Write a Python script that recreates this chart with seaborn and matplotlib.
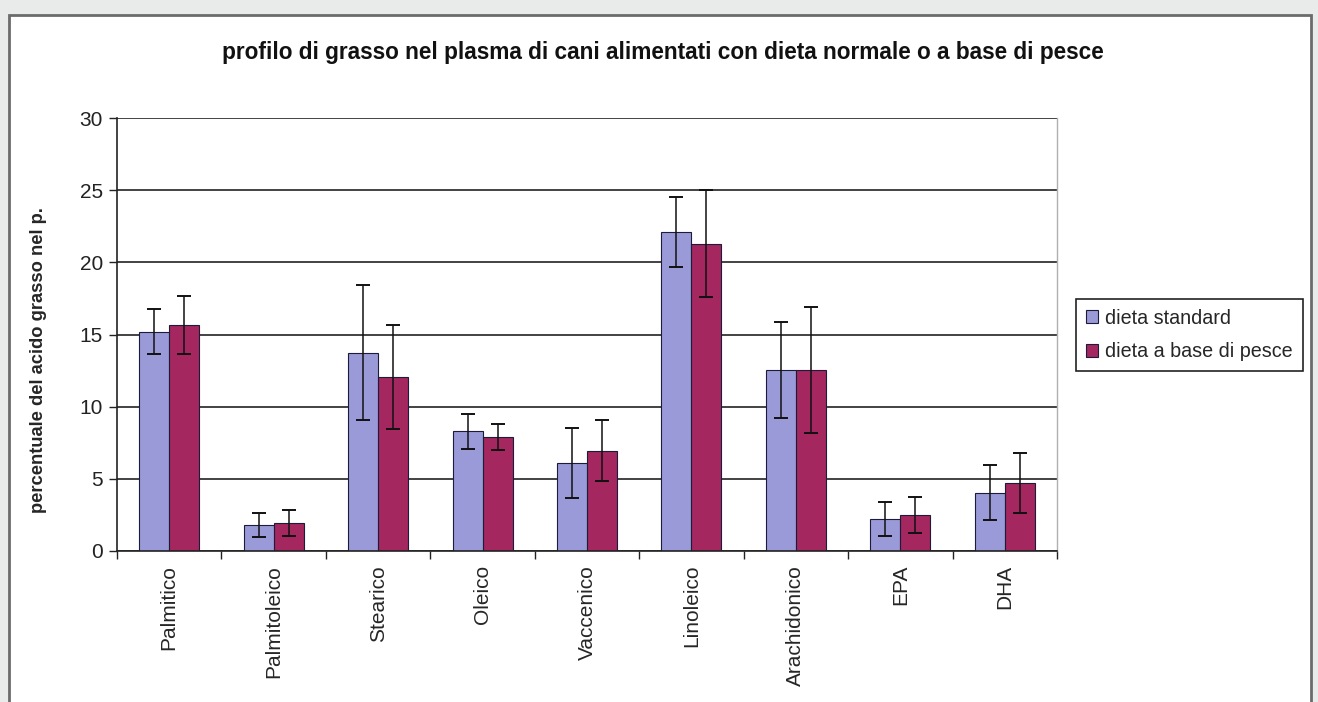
import matplotlib
matplotlib.use("Agg")
import matplotlib.pyplot as plt
from matplotlib.patches import Rectangle
import numpy as np
import pandas as pd
import seaborn as sns

# valori (% acido grasso nel plasma)
acids = ["Palmitico", "Palmitoleico", "Stearico", "Oleico", "Vaccenico",
         "Linoleico", "Arachidonico", "EPA", "DHA"]
diets = ["dieta standard", "dieta a base di pesce"]
standard_mean = [15.2, 1.8, 13.75, 8.3, 6.1, 22.1, 12.55, 2.2, 4.05]
standard_err = [1.55, 0.8, 4.7, 1.2, 2.4, 2.4, 3.35, 1.17, 1.92]
fish_mean = [15.65, 1.95, 12.05, 7.9, 6.95, 21.3, 12.55, 2.5, 4.7]
fish_err = [2.0, 0.9, 3.6, 0.9, 2.1, 3.7, 4.35, 1.26, 2.1]
y_ticks = [0, 5, 10, 15, 20, 25, 30]

BLUE = "#9a9ad8"
RED = "#a4275f"

df = pd.DataFrame({
    "acido": acids * 2,
    "dieta": [diets[0]] * len(acids) + [diets[1]] * len(acids),
    "valore": standard_mean + fish_mean,
})

sns.set_theme(style="white")
plt.rcParams["font.family"] = ["Liberation Sans", "DejaVu Sans"]

W, H = 1318, 702
fig = plt.figure(figsize=(W / 100, H / 100), dpi=100, facecolor="#e9ebeb")
fig.patches.append(Rectangle((9 / W, -0.05), (1311 - 9) / W, 1.05 - 15 / H,
                             transform=fig.transFigure, facecolor="white",
                             edgecolor="#6b6b6b", linewidth=2, zorder=-5))

ax = fig.add_axes([117 / W, 1 - 551 / H, (1057 - 117) / W, (551 - 118) / H])
ax.set_zorder(2)
sns.barplot(data=df, x="acido", y="valore", hue="dieta", order=acids,
            hue_order=diets, palette=[BLUE, RED], saturation=1, width=0.575,
            gap=0, edgecolor="#1c1c3a", linewidth=0.8, errorbar=None, ax=ax)

for container, means, errs in zip(ax.containers, [standard_mean, fish_mean],
                                  [standard_err, fish_err]):
    xs = [p.get_x() + p.get_width() / 2 for p in container.patches]
    ax.errorbar(xs, means, yerr=errs, fmt="none", ecolor="#111111",
                elinewidth=1.1, capsize=5, capthick=1.4, zorder=5)

ax.set_xlim(-0.5, len(acids) - 0.5)
ax.set_ylim(0, 30)
ax.set_yticks(y_ticks)
ax.set_xticks(range(len(acids)))
ax.set_xticklabels(acids, rotation=90, fontsize=15)
ax.set_xticks(np.arange(-0.5, len(acids), 1), minor=True)
ax.tick_params(axis="x", which="major", length=0, pad=10)
ax.tick_params(axis="x", which="minor", bottom=True, length=6, width=1, color="#222")
ax.tick_params(axis="y", left=True, length=6, width=1, color="#222", labelsize=15, pad=4)
for lbl in ax.get_yticklabels():
    lbl.set_color("#222")

ax.yaxis.grid(True, color="#222222", linewidth=1.2)
ax.set_axisbelow(True)
ax.spines["top"].set_visible(False)
ax.spines["right"].set_color("#b0b0b0")
ax.spines["right"].set_linewidth(1.0)
for side in ("left", "bottom"):
    ax.spines[side].set_color("#222222")
    ax.spines[side].set_linewidth(1.2)

ax.set_xlabel("")
ax.set_ylabel("percentuale del acido grasso nel p.", fontsize=13.2, fontweight="bold")
ax.yaxis.set_label_coords((47 - 117) / 940, 0.44)

fig.text(0.503, 1 - 52 / H,
         "profilo di grasso nel plasma di cani alimentati con dieta normale o a base di pesce",
         ha="center", va="center", fontsize=16.3, fontweight="bold", color="#111")

sns.move_legend(ax, "center left", bbox_to_anchor=(1.0096, 0.499), title=None,
                frameon=True, fancybox=False, edgecolor="#222", fontsize=14.2,
                handlelength=0.6, handleheight=0.6, handletextpad=0.4,
                borderpad=0.5, labelspacing=0.75, framealpha=1)
ax.get_legend().get_frame().set_linewidth(1.2)

fig.savefig("out.png", dpi=100, facecolor=fig.get_facecolor())
